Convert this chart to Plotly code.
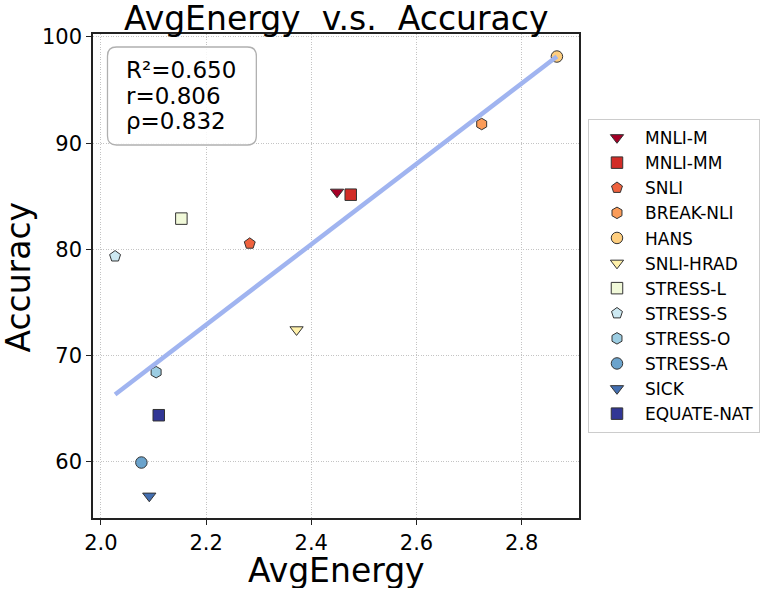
import numpy as np
import plotly.graph_objects as go

datasets = ["MNLI-M", "MNLI-MM", "SNLI", "BREAK-NLI", "HANS", "SNLI-HRAD",
            "STRESS-L", "STRESS-S", "STRESS-O", "STRESS-A", "SICK", "EQUATE-NAT"]
avg_energy = [2.449, 2.475, 2.283, 2.724, 2.867, 2.372,
              2.153, 2.027, 2.105, 2.077, 2.092, 2.110]
accuracy = [85.4, 85.15, 80.55, 91.8, 98.15, 72.45,
            82.9, 79.35, 68.45, 59.95, 56.8, 64.4]
colors = ["#a50026", "#d22c27", "#ef623e", "#fb9c59", "#fece7f", "#fff1aa",
          "#f1f9d9", "#cde9f2", "#9ccde2", "#6ba3cc", "#436fb1", "#313695"]
symbols = ["triangle-down", "square", "pentagon", "hexagon", "circle",
           "triangle-down", "square", "pentagon", "hexagon", "circle",
           "triangle-down", "square"]
stats_text = ["R²=0.650", "r=0.806", "ρ=0.832"]
title_text = "AvgEnergy\u00a0\u00a0v.s.\u00a0\u00a0Accuracy"

FONT = "DejaVu Sans"
fig = go.Figure()

for i, name in enumerate(datasets):
    fig.add_trace(go.Scatter(
        x=[avg_energy[i]], y=[accuracy[i]], mode="markers", name=name,
        legendgroup=name,
        marker=dict(symbol=symbols[i], size=11.5, color=colors[i],
                    line=dict(color="#333333", width=1)),
    ))

xs = np.array(avg_energy)
ys = np.array(accuracy)
slope, intercept = np.polyfit(xs, ys, 1)
xl = np.array([xs.min(), xs.max()])
fig.add_trace(go.Scatter(
    x=xl, y=slope * xl + intercept, mode="lines", showlegend=False,
    line=dict(color="#a0b4f0", width=4.5), hoverinfo="skip",
))

W, H = 761, 590
L, R, T, B = 92.5, 579, 34, 518
pw, ph = R - L, B - T

def px(x):
    return (x - L) / pw

def py(y):
    return (B - y) / ph

# rounded stats box
bx0, bx1, by0, by1, rad = 107, 256, 47, 145, 9
rx, ry = rad / pw, rad / ph
x0, x1, y0, y1 = px(bx0), px(bx1), py(by1), py(by0)
path = (f"M {x0+rx},{y0} L {x1-rx},{y0} Q {x1},{y0} {x1},{y0+ry} "
        f"L {x1},{y1-ry} Q {x1},{y1} {x1-rx},{y1} L {x0+rx},{y1} "
        f"Q {x0},{y1} {x0},{y1-ry} L {x0},{y0+ry} Q {x0},{y0} {x0+rx},{y0} Z")
fig.add_shape(type="path", path=path, xref="paper", yref="paper",
              line=dict(color="#b0b0b0", width=1.3), fillcolor="rgba(255,255,255,0.85)",
              layer="above")
for k, line in enumerate(stats_text):
    fig.add_annotation(x=px(124), y=py(70 + 25.5 * k), xref="paper", yref="paper",
                       text=line, showarrow=False, xanchor="left", yanchor="middle",
                       align="left", font=dict(family=FONT, size=23, color="black"))

# title and axis labels
fig.add_annotation(x=px(335.7), y=py(18.5), xref="paper", yref="paper",
                   text=title_text, showarrow=False, xanchor="center", yanchor="middle",
                   font=dict(family=FONT, size=33, color="black"))
fig.add_annotation(x=px(336), y=py(570), xref="paper", yref="paper",
                   text="AvgEnergy", showarrow=False, xanchor="center", yanchor="middle",
                   height=36, valign="middle",
                   font=dict(family=FONT, size=33, color="black"))
fig.add_annotation(x=px(17), y=py(277), xref="paper", yref="paper",
                   text="Accuracy", showarrow=False, xanchor="center", yanchor="middle",
                   textangle=-90, font=dict(family=FONT, size=33, color="black"))

axis_common = dict(
    showline=True, linecolor="#222222", linewidth=1.5, mirror=True,
    ticks="outside", ticklen=5, tickwidth=1.2, tickcolor="#222222",
    showgrid=True, gridcolor="#c4c4c4", griddash="1px,1.5px", gridwidth=1,
    zeroline=False, tickfont=dict(family=FONT, size=21, color="black"),
)

fig.update_layout(
    width=W, height=H,
    margin=dict(l=L, r=W - R, t=T, b=H - B, autoexpand=False),
    paper_bgcolor="white", plot_bgcolor="white",
    xaxis=dict(range=[1.985, 2.909], tickvals=[2.0, 2.2, 2.4, 2.6, 2.8],
               ticktext=["2.0", "2.2", "2.4", "2.6", "2.8"], **axis_common),
    yaxis=dict(range=[54.73, 100.27], tickvals=[60, 70, 80, 90, 100], **axis_common),
    legend=dict(x=px(588), y=py(119), xanchor="left", yanchor="top",
                bordercolor="#cccccc", borderwidth=1, bgcolor="white",
                font=dict(family=FONT, size=17, color="black"),
                tracegroupgap=0, itemwidth=46),
    showlegend=True,
)

fig.write_html("out.html", config={"displayModeBar": False},
               post_script="document.body.style.margin='0';document.body.style.overflow='hidden';")
